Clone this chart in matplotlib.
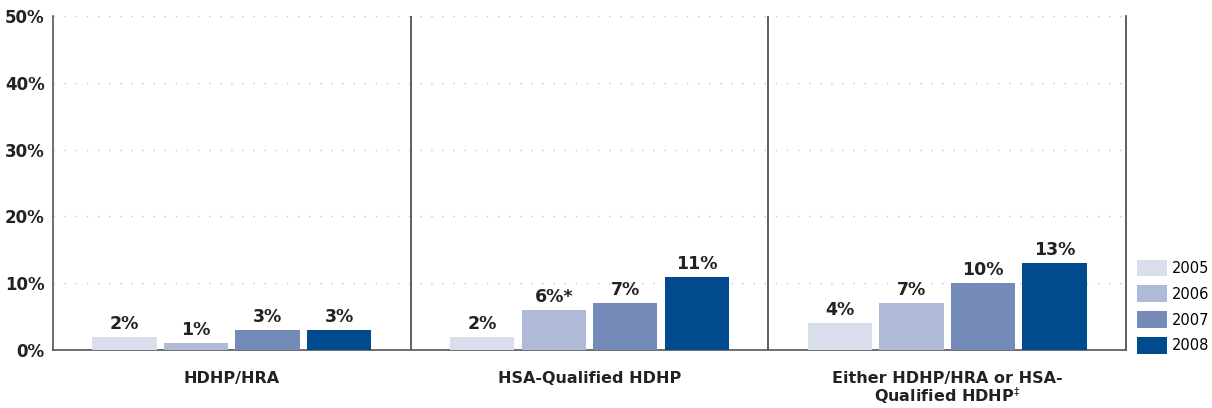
import numpy as np
from matplotlib import pyplot as plt

# dati
categorie = ["HDHP/HRA", "HSA-Qualified HDHP", "Either HDHP/HRA or HSA-\nQualified HDHP$^{\\ddagger}$"]
anni = ["2005", "2006", "2007", "2008"]
valori = {
    "2005": [2, 2, 4],
    "2006": [1, 6, 7],
    "2007": [3, 7, 10],
    "2008": [3, 11, 13],
}
etichette = {
    "2005": ["2%", "2%", "4%"],
    "2006": ["1%", "6%*", "7%"],
    "2007": ["3%", "7%", "10%"],
    "2008": ["3%", "11%", "13%"],
}
colori = ["#D9DEEC", "#AFBAD7", "#748BBA", "#004A8D"]
tick_y = [0, 10, 20, 30, 40, 50]

fig = plt.figure(figsize=(12.12, 4.08), dpi=100)
ax = fig.add_axes([53 / 1212, 58 / 408, (1126 - 53) / 1212, (350 - 16) / 408])

x = np.arange(len(categorie))
passo = 0.2
larghezza = 0.18
for i, anno in enumerate(anni):
    pos = x + (i - 1.5) * passo
    ax.bar(pos, valori[anno], width=larghezza, color=colori[i], label=anno, zorder=3)
    for xp, v, t in zip(pos, valori[anno], etichette[anno]):
        ax.text(xp, v + 0.6, t, ha="center", va="bottom", fontsize=12.5,
                fontweight="bold", color="#222222")

ax.set_xlim(-0.5, 2.5)
ax.set_ylim(0, 50)
ax.set_yticks(tick_y)
ax.set_yticklabels([f"{t}%" for t in tick_y], fontsize=12, fontweight="bold", color="#222222")
ax.set_xticks(x)
ax.set_xticklabels(categorie, fontsize=11.5, fontweight="bold", color="#222222", linespacing=0.95)
ax.tick_params(axis="both", length=0, pad=6)
ax.tick_params(axis="x", pad=15)

# griglia a puntini
for t in tick_y[1:]:
    ax.axhline(t, color="#C4C4C4", linewidth=1, linestyle=(0, (1, 7)), zorder=1)

# separatori tra i pannelli
for s in [0.5, 1.5]:
    ax.axvline(s, color="#444444", linewidth=1.2, zorder=2)

for lato in ["left", "bottom", "right"]:
    ax.spines[lato].set_color("#555555")
    ax.spines[lato].set_linewidth(1.2)
ax.spines["right"].set_color("#444444")
ax.spines["top"].set_visible(False)

ax.legend(loc="lower left", bbox_to_anchor=(1.01, -0.012), frameon=False,
          fontsize=10.5, handlelength=2.1, handleheight=1.4, labelspacing=0.62,
          handletextpad=0.3, borderaxespad=0, borderpad=0)

fig.savefig("out.png", dpi=100)
